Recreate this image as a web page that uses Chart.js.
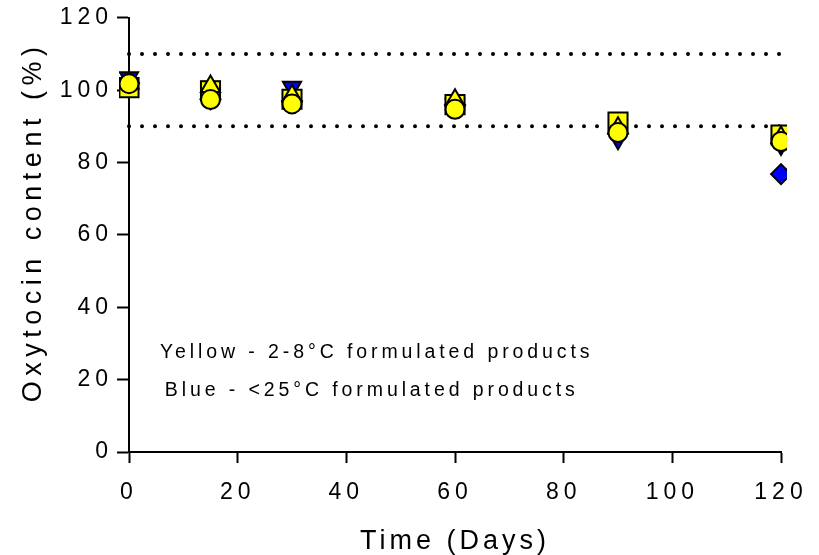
<!DOCTYPE html>
<html>
<head>
<meta charset="utf-8">
<script src="https://cdn.jsdelivr.net/npm/chart.js@4"></script>
<style>
  html, body { margin: 0; padding: 0; background: #fff; }
  #wrap { width: 819px; height: 555px; }
</style>
</head>
<body>
<div id="wrap"><canvas id="c" width="819" height="555"></canvas></div>
<script>
// ---- data ----
const days = [0, 15, 30, 60, 90, 120];
const yellowSquare   = [100.7, 99.8, 97.5, 96.0, 91.2, 87.6];
const yellowTriangle = [102.0, 101.0, 98.4, 97.2, 89.5, 86.9];
const yellowCircle   = [101.8, 97.4, 96.2, 94.7, 88.3, 85.8];
const blueTriDown    = [103.5, 100.9, 100.9, 96.0, 86.6, 85.0];
const blueDiamond    = [102.0, 97.5, 97.0, 96.0, 88.0, 76.8];
const limitLines = [110, 90];
const xTicks = [0, 20, 40, 60, 80, 100, 120];
const yTicks = [0, 20, 40, 60, 80, 100, 120];
const notes = [
  { text: 'Yellow - 2-8°C formulated products', x: 5.7, y: 27.4 },
  { text: 'Blue - <25°C formulated products', x: 6.6, y: 17.0 }
];

const YELLOW = '#ffff00';
const BLUE = '#0000ff';
const FONT = '"Liberation Sans", Arial, sans-serif';

function pts(vals) { return days.map((d, i) => ({ x: d, y: vals[i] })); }

function series(label, vals, style, color, radius, rotation, order) {
  return {
    type: 'scatter', label, data: pts(vals),
    pointStyle: style, pointRotation: rotation || 0,
    pointRadius: radius, pointHoverRadius: radius,
    pointBackgroundColor: color, pointBorderColor: '#000', pointBorderWidth: 2,
    showLine: false, order,
    clip: { left: 10, top: 10, right: 6, bottom: 10 }
  };
}

const datasets = [
  series('Yellow square', yellowSquare, 'rect', YELLOW, 13.5, 0, 3),
  series('Yellow triangle', yellowTriangle, 'triangle', YELLOW, 11, 0, 2),
  series('Yellow circle', yellowCircle, 'circle', YELLOW, 9.5, 0, 1),
  series('Blue triangle', blueTriDown, 'triangle', BLUE, 10.5, 180, 4),
  series('Blue diamond', blueDiamond, 'rectRot', BLUE, 10, 0, 5)
];
limitLines.forEach((v, i) => {
  datasets.push({
    type: 'line', label: 'limit ' + v,
    data: [{ x: xTicks[0], y: v }, { x: xTicks[xTicks.length - 1], y: v }],
    borderColor: '#000', borderWidth: 4, borderDash: [0, 13], borderCapStyle: 'round',
    pointRadius: 0, fill: false, order: 10 + i, clip: 10
  });
});

// letter spacing for tick labels and titles (wraps the scale's own drawing)
function spaced(s, labelSp, titleSp, titleShiftY) {
  if (s._spacedWrap) return;
  s._spacedWrap = true;
  const dl = s.drawLabels.bind(s), dt = s.drawTitle.bind(s);
  s.drawLabels = function (a) { const c = this.ctx; c.save(); c.letterSpacing = labelSp; dl(a); c.restore(); };
  s.drawTitle = function (a) {
    const c = this.ctx; c.save(); c.letterSpacing = titleSp;
    c.translate(0, titleShiftY || 0); dt(a); c.restore();
  };
}

const notesPlugin = {
  id: 'notes',
  afterDatasetsDraw(chart) {
    const ctx = chart.ctx, xs = chart.scales.x, ys = chart.scales.y;
    ctx.save();
    ctx.letterSpacing = '3.9px';
    ctx.font = '19.5px ' + FONT;
    ctx.fillStyle = '#000';
    ctx.textAlign = 'left';
    ctx.textBaseline = 'middle';
    notes.forEach(n => ctx.fillText(n.text, xs.getPixelForValue(n.x), ys.getPixelForValue(n.y)));
    ctx.restore();
  }
};

new Chart(document.getElementById('c'), {
  data: { datasets },
  plugins: [notesPlugin],
  options: {
    responsive: false,
    animation: false,
    events: [],
    layout: { padding: { left: 0, right: 38, top: 16, bottom: 0 } },
    plugins: { legend: { display: false }, tooltip: { enabled: false } },
    scales: {
      x: {
        type: 'linear', min: 0, max: 120,
        afterFit(s) { s.height = 555 - 452; spaced(s, '5px', '4px', 3); },
        afterBuildTicks(s) { s.ticks = xTicks.map(v => ({ value: v })); },
        border: { color: '#000', width: 2 },
        grid: { drawOnChartArea: false, drawTicks: true, tickLength: 11, tickColor: '#000', tickWidth: 2 },
        ticks: { color: '#000', font: { family: FONT, size: 23 }, padding: 16, maxRotation: 0 },
        title: { display: true, text: 'Time (Days)', color: '#000', font: { family: FONT, size: 27 }, padding: { top: 0, bottom: 0 } }
      },
      y: {
        type: 'linear', min: 0, max: 120,
        afterFit(s) { s.width = 129; spaced(s, '5px', '5.5px', -13); },
        afterBuildTicks(s) { s.ticks = yTicks.map(v => ({ value: v })); },
        border: { color: '#000', width: 2 },
        grid: { drawOnChartArea: false, drawTicks: true, tickLength: 12, tickColor: '#000', tickWidth: 2 },
        ticks: { color: '#000', font: { family: FONT, size: 23 }, padding: 4 },
        title: { display: true, text: 'Oxytocin content (%)', color: '#000', font: { family: FONT, size: 27 }, padding: { top: 17, bottom: 0 } }
      }
    }
  }
});
</script>
</body>
</html>
